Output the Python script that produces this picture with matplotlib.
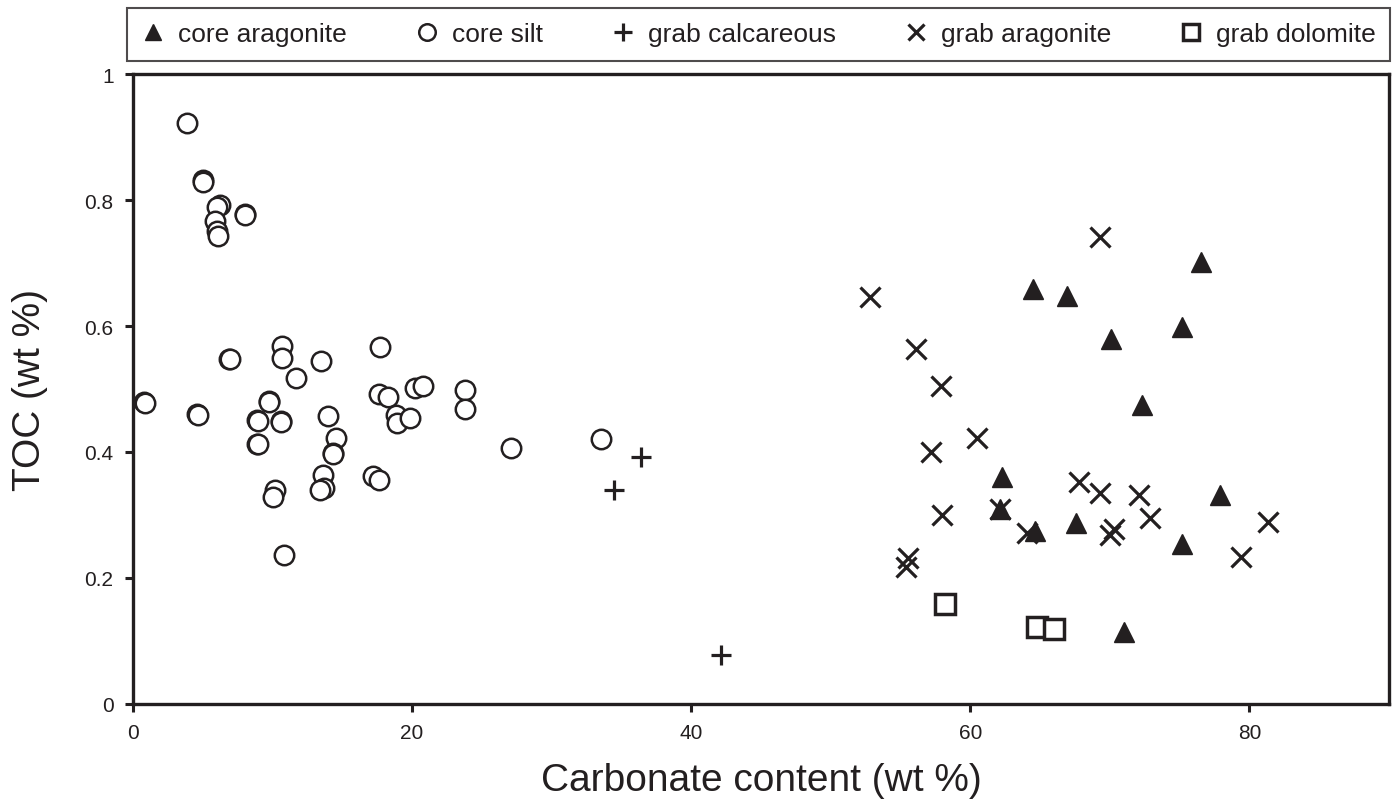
import matplotlib
matplotlib.use("Agg")
import matplotlib.pyplot as plt
from matplotlib.ticker import FormatStrFormatter

plt.rcParams["font.family"] = ["Liberation Sans", "DejaVu Sans"]
INK = "#231f20"

# core silt: carbonate (wt %), TOC (wt %)
silt_x = [3.9, 5.0, 5.03, 6.2, 6.0, 5.9, 6.05, 6.1, 8.0, 8.03,
          0.8, 0.85, 4.6, 4.65, 6.9, 6.95, 10.7, 10.7, 11.7, 13.5, 17.7,
          9.75, 9.72, 8.9, 8.95, 10.6, 10.63, 8.9, 8.95, 14.0, 14.55, 14.3, 14.33,
          13.6, 13.7, 13.4, 10.2, 10.05, 10.8, 17.2, 17.65, 17.6, 18.3,
          18.85, 18.9, 19.85, 20.2, 20.75, 23.8, 23.8, 27.1, 33.5]
silt_y = [0.923, 0.831, 0.829, 0.792, 0.789, 0.766, 0.751, 0.743, 0.778, 0.777,
          0.479, 0.478, 0.460, 0.459, 0.548, 0.547, 0.568, 0.550, 0.517, 0.545, 0.567,
          0.481, 0.480, 0.451, 0.450, 0.449, 0.447, 0.413, 0.412, 0.457, 0.422, 0.398, 0.397,
          0.364, 0.343, 0.339, 0.340, 0.329, 0.237, 0.362, 0.356, 0.492, 0.488,
          0.458, 0.446, 0.454, 0.502, 0.504, 0.499, 0.469, 0.407, 0.421]

core_arag_x = [64.5, 66.9, 70.1, 76.5, 75.2, 72.3, 62.3, 62.1, 64.6, 67.6, 77.9, 75.2, 71.0]
core_arag_y = [0.659, 0.648, 0.580, 0.701, 0.598, 0.475, 0.360, 0.310, 0.274, 0.288, 0.331, 0.254, 0.115]

grab_calc_x = [36.4, 34.5, 42.1]
grab_calc_y = [0.392, 0.340, 0.078]

grab_arag_x = [52.8, 69.3, 56.1, 57.9, 60.5, 57.2, 67.8, 69.3, 58.0, 62.1,
               64.05, 70.0, 70.3, 55.4, 55.5, 72.1, 72.9, 81.3, 79.4]
grab_arag_y = [0.646, 0.741, 0.564, 0.504, 0.423, 0.400, 0.352, 0.335, 0.300, 0.310,
               0.271, 0.268, 0.278, 0.218, 0.231, 0.332, 0.296, 0.289, 0.234]

grab_dol_x = [58.2, 64.8, 66.0]
grab_dol_y = [0.158, 0.122, 0.119]

fig = plt.figure(figsize=(13.97, 8.12), dpi=100)
ax = fig.add_axes([0.0952, 0.1318, 0.8991, 0.7758])

h1, = ax.plot(core_arag_x, core_arag_y, ls="none", marker="^", ms=14,
              mfc=INK, mec=INK, label="core aragonite")
h2, = ax.plot(silt_x, silt_y, ls="none", marker="o", ms=14, mfc="white",
              mec=INK, mew=1.8, label="core silt")
h3, = ax.plot(grab_calc_x, grab_calc_y, ls="none", marker="+", ms=15,
              mec=INK, mew=2.3, label="grab calcareous")
h4, = ax.plot(grab_arag_x, grab_arag_y, ls="none", marker="x", ms=14,
              mec=INK, mew=2.3, label="grab aragonite")
h5, = ax.plot(grab_dol_x, grab_dol_y, ls="none", marker="s", ms=14, mfc="white",
              mec=INK, mew=2.5, label="grab dolomite")

ax.set_xlim(0, 90)
ax.set_ylim(0, 1)
ax.set_xticks([0, 20, 40, 60, 80])
ax.set_yticks([0, 0.2, 0.4, 0.6, 0.8, 1.0])
ax.yaxis.set_major_formatter(FormatStrFormatter("%g"))
ax.tick_params(direction="out", length=6, width=2.2, color=INK,
               labelsize=15, labelcolor=INK, pad=8)
for s in ax.spines.values():
    s.set_linewidth(2.4)
    s.set_color(INK)

ax.set_xlabel("Carbonate content (wt %)", fontsize=28, color=INK, labelpad=14)
ax.set_ylabel("TOC (wt %)", fontsize=28, color=INK, labelpad=26)

leg = fig.legend(handles=[h1, h2, h3, h4, h5], loc="center",
                 bbox_to_anchor=(0.0909, 0.9236, 0.904, 0.0665), mode="expand",
                 ncol=5, fontsize=19, frameon=True, fancybox=False,
                 edgecolor=INK, handlelength=0.9, handletextpad=0.5,
                 borderaxespad=0, borderpad=0.55, markerscale=0.85)
leg.get_frame().set_linewidth(1.5)
for t in leg.get_texts():
    t.set_color(INK)

fig.savefig("out.png", dpi=100)
